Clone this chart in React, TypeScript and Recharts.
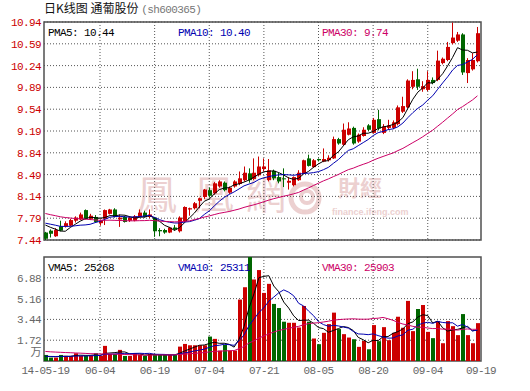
import React from 'react';
import { ComposedChart, Bar, Line, XAxis, YAxis, CartesianGrid, ReferenceArea } from 'recharts';

// 2014 trading days shown on the chart
const dates = [
  '05-19', '05-20', '05-21', '05-22', '05-23', '05-26', '05-27', '05-28', '05-29', '05-30',
  '06-03', '06-04', '06-05', '06-06', '06-09', '06-10', '06-11', '06-12', '06-13', '06-16',
  '06-17', '06-18', '06-19', '06-20', '06-23', '06-24', '06-25', '06-26', '06-27', '06-30',
  '07-01', '07-02', '07-03', '07-04', '07-07', '07-08', '07-09', '07-10', '07-11', '07-14',
  '07-15', '07-16', '07-17', '07-18', '07-21', '07-22', '07-23', '07-24', '07-25', '07-28',
  '07-29', '07-30', '07-31', '08-01', '08-04', '08-05', '08-06', '08-07', '08-08', '08-11',
  '08-12', '08-13', '08-14', '08-15', '08-18', '08-19', '08-20', '08-21', '08-22', '08-25',
  '08-26', '08-27', '08-28', '08-29', '09-01', '09-02', '09-03', '09-04', '09-05', '09-09',
  '09-10', '09-11', '09-12', '09-15', '09-16', '09-17', '09-18', '09-19',
];

const opens = [
  7.56, 7.59, 7.50, 7.66, 7.66, 7.67, 7.75, 7.77, 7.92, 7.78,
  7.81, 7.71, 7.78, 7.86, 7.93, 7.77, 7.81, 7.75, 7.75, 7.81,
  7.88, 7.81, 7.80, 7.60, 7.60, 7.56, 7.64, 7.58, 7.74, 7.93,
  7.95, 8.07, 8.13, 8.24, 8.19, 8.30, 8.36, 8.20, 8.30, 8.34,
  8.40, 8.51, 8.42, 8.48, 8.58, 8.40, 8.55, 8.45, 8.43, 8.36,
  8.32, 8.40, 8.51, 8.75, 8.61, 8.74, 8.70, 8.72, 8.75, 9.06,
  8.97, 9.13, 9.24, 9.02, 9.11, 9.28, 9.16, 9.38, 9.16, 9.24,
  9.24, 9.30, 9.50, 9.57, 9.90, 10.02, 9.86, 9.85, 10.01, 10.01,
  10.28, 10.33, 10.60, 10.64, 10.74, 10.12, 10.18, 10.31,
];
const highs = [
  7.57, 7.61, 7.63, 7.75, 7.74, 7.78, 7.82, 7.88, 7.93, 7.86,
  7.84, 7.77, 7.93, 7.94, 7.95, 7.85, 7.83, 7.82, 7.84, 7.93,
  7.91, 7.93, 7.81, 7.63, 7.62, 7.65, 7.68, 7.82, 7.98, 7.96,
  8.05, 8.12, 8.26, 8.28, 8.37, 8.40, 8.38, 8.30, 8.40, 8.54,
  8.62, 8.59, 8.75, 8.78, 8.75, 8.74, 8.57, 8.52, 8.59, 8.45,
  8.46, 8.56, 8.73, 8.81, 8.74, 8.75, 8.91, 8.80, 9.10, 9.08,
  9.31, 9.33, 9.26, 9.15, 9.25, 9.30, 9.40, 9.53, 9.30, 9.37,
  9.36, 9.60, 9.74, 10.02, 10.15, 10.19, 9.99, 10.15, 10.05, 10.48,
  10.37, 10.62, 10.93, 10.78, 10.76, 10.36, 10.44, 10.86,
];
const lows = [
  7.44, 7.48, 7.49, 7.58, 7.64, 7.66, 7.72, 7.76, 7.77, 7.76,
  7.72, 7.67, 7.68, 7.85, 7.80, 7.65, 7.72, 7.73, 7.74, 7.80,
  7.80, 7.79, 7.49, 7.50, 7.54, 7.55, 7.59, 7.56, 7.72, 7.83,
  7.93, 7.95, 8.10, 8.12, 8.17, 8.28, 8.22, 8.18, 8.28, 8.32,
  8.38, 8.36, 8.40, 8.46, 8.54, 8.38, 8.40, 8.35, 8.29, 8.25,
  8.30, 8.39, 8.50, 8.62, 8.60, 8.70, 8.69, 8.70, 8.74, 8.97,
  8.95, 9.12, 8.97, 9.00, 9.10, 9.19, 9.15, 9.20, 9.14, 9.21,
  9.22, 9.28, 9.48, 9.55, 9.86, 9.85, 9.82, 9.83, 9.94, 9.99,
  10.26, 10.31, 10.58, 10.62, 10.09, 9.96, 10.16, 10.29,
];
const closes = [
  7.46, 7.54, 7.60, 7.59, 7.71, 7.76, 7.80, 7.85, 7.78, 7.83,
  7.73, 7.75, 7.92, 7.93, 7.81, 7.80, 7.73, 7.80, 7.82, 7.88,
  7.81, 7.85, 7.58, 7.58, 7.56, 7.64, 7.61, 7.80, 7.97, 7.95,
  8.03, 8.11, 8.25, 8.15, 8.35, 8.38, 8.24, 8.28, 8.38, 8.43,
  8.52, 8.40, 8.52, 8.62, 8.62, 8.56, 8.43, 8.38, 8.42, 8.39,
  8.45, 8.52, 8.72, 8.63, 8.72, 8.72, 8.74, 8.76, 9.06, 8.99,
  9.21, 9.23, 8.99, 9.13, 9.21, 9.21, 9.37, 9.23, 9.26, 9.28,
  9.33, 9.57, 9.59, 10.00, 10.01, 9.90, 9.91, 10.01, 9.96, 10.32,
  10.35, 10.54, 10.69, 10.74, 10.13, 10.33, 10.33, 10.76,
];
// volume in 万
const volumes = [
  0.50, 0.28, 0.28, 0.50, 0.42, 0.42, 0.64, 0.42, 0.42, 0.42,
  0.64, 0.42, 1.25, 0.58, 0.58, 0.92, 0.42, 0.42, 0.64, 0.53,
  0.42, 0.58, 0.50, 0.50, 0.50, 0.50, 0.50, 1.19, 1.41, 1.30,
  1.30, 1.30, 1.30, 2.02, 1.83, 0.86, 1.33, 0.86, 0.86, 5.08,
  6.10, 9.00, 6.74, 7.52, 5.63, 6.38, 4.72, 4.38, 3.25, 3.16,
  3.16, 2.77, 4.55, 3.25, 1.86, 1.39, 2.33, 3.05, 4.00, 2.64,
  2.22, 1.94, 1.80, 1.17, 1.66, 0.97, 2.97, 1.64, 2.80, 1.72,
  2.33, 3.66, 2.75, 4.97, 2.47, 4.30, 4.63, 2.41, 1.89, 3.30,
  1.47, 3.30, 2.88, 2.14, 3.88, 2.14, 1.47, 3.13,
];

// sessions before 05-19 (estimated), only feed the moving averages
const prevCloses = [
  8.10, 8.08, 8.12, 8.06, 8.02, 8.04, 7.98, 7.96, 8.00, 7.94,
  7.92, 7.90, 7.88, 7.90, 7.86, 7.84, 7.86, 7.82, 7.80, 7.78,
  7.70, 7.76, 7.78, 7.72, 7.74, 7.72, 7.75, 7.74, 7.73,
];
const prevVolumes = [
  1.2, 0.9, 1.1, 1.0, 0.8, 1.3, 0.9, 1.0, 1.1, 0.9,
  1.0, 0.8, 1.2, 1.0, 0.9, 1.1, 0.8, 0.9, 1.0, 0.9,
  0.4, 0.35, 0.4, 0.45, 0.35, 0.4, 0.35, 0.4, 0.3,
];

const priceTicks = [7.44, 7.79, 8.14, 8.49, 8.84, 9.19, 9.54, 9.89, 10.24, 10.59, 10.94];
const volTicks = [0.7, 1.72, 3.44, 5.16, 6.88];
const volGrid = [1.72, 3.44, 5.16, 6.88];
const dateTickLabels = ['14-05-19', '06-04', '06-19', '07-04', '07-21', '08-05', '08-20', '09-04', '09-19'];

const priceLegend = ['PMA5: 10.44', 'PMA10: 10.40', 'PMA30: 9.74'];
const volLegend = ['VMA5: 25268', 'VMA10: 25311', 'VMA30: 25903'];

const RED = '#cc0000';
const GREEN = '#006600';
const MA5 = '#000000';
const MA10 = '#0000b0';
const MA30 = '#cc0066';
const GRID = '#555555';
const MONO = '"Liberation Mono", "DejaVu Sans Mono", "Noto Sans CJK SC", monospace';

const X_MIN = -0.28;
const X_MAX = 87.72;
const gridX = [11, 22, 33, 44, 55, 66, 77];
const labelX = [0, 11, 22, 33, 44, 55, 66, 77, X_MAX];

function movingAvg(values: number[], prev: number[], n: number) {
  const all = prev.concat(values);
  return values.map((_, i) => {
    const end = prev.length + i;
    let s = 0;
    for (let k = end - n + 1; k <= end; k++) s += all[k];
    return s / n;
  });
}

const ma5 = movingAvg(closes, prevCloses, 5);
const ma10 = movingAvg(closes, prevCloses, 10);
const ma30 = movingAvg(closes, prevCloses, 30);
const vma5 = movingAvg(volumes, prevVolumes, 5);
const vma10 = movingAvg(volumes, prevVolumes, 10);
const vma30 = movingAvg(volumes, prevVolumes, 30);

const data = dates.map((d, i) => ({
  i,
  date: d,
  open: opens[i],
  high: highs[i],
  low: lows[i],
  close: closes[i],
  range: [lows[i], highs[i]],
  up: closes[i] >= opens[i],
  vol: volumes[i],
  ma5: ma5[i],
  ma10: ma10[i],
  ma30: ma30[i],
  vma5: vma5[i],
  vma10: vma10[i],
  vma30: vma30[i],
}));

const Candle = (props: any) => {
  const { x, y, width, height, payload } = props;
  if (x == null || !payload) return null;
  const { open, close, high, low } = payload;
  const top = Math.min(y, y + height);
  const h = Math.abs(height);
  const span = high - low;
  const py = (v: number) => (span > 0 ? top + ((high - v) / span) * h : top);
  const color = close >= open ? RED : GREEN;
  const c = Math.round(x + width / 2);
  const bTop = py(Math.max(open, close));
  const bBot = py(Math.min(open, close));
  return (
    <g>
      <line x1={c + 0.5} x2={c + 0.5} y1={top} y2={top + h} stroke={color} strokeWidth={1} />
      <rect x={c - 1} y={bTop} width={4} height={Math.max(1, bBot - bTop)} fill={color} />
    </g>
  );
};

const VolBar = (props: any) => {
  const { x, y, width, height, payload } = props;
  if (x == null || !payload) return null;
  const c = Math.round(x + width / 2);
  const top = Math.min(y, y + height);
  return <rect x={c - 1} y={top} width={4} height={Math.abs(height)} fill={payload.up ? RED : GREEN} />;
};

const axisTick = (fill: string) => ({ fill, fontSize: 11, fontFamily: MONO, letterSpacing: -0.6 });

export default function App() {
  return (
    <div style={{ position: 'absolute', left: 0, top: 0, width: 530, height: 391, background: '#fff', overflow: 'hidden' }}>
      {/* ifeng watermark */}
      <div style={{ position: 'absolute', left: 0, top: 0, width: 530, height: 391, color: '#ecd0d0', fontFamily: '"Noto Sans CJK TC", sans-serif' }}>
        <span style={{ position: 'absolute', left: 137, top: 170, fontSize: 40, lineHeight: '44px' }}>鳳</span>
        <span style={{ position: 'absolute', left: 194, top: 170, fontSize: 40, lineHeight: '44px' }}>凰</span>
        <span style={{ position: 'absolute', left: 246, top: 170, fontSize: 40, lineHeight: '44px' }}>網</span>
        <svg style={{ position: 'absolute', left: 288, top: 181 }} width={34} height={34}>
          <circle cx={17} cy={17} r={14} fill="none" stroke="#ecd0d0" strokeWidth={5} />
          <circle cx={19} cy={16} r={6} fill="none" stroke="#ecd0d0" strokeWidth={4} />
        </svg>
        <span style={{ position: 'absolute', left: 338, top: 174, fontSize: 22, fontWeight: 700, lineHeight: '24px' }}>財經</span>
        <span style={{ position: 'absolute', left: 332, top: 207, fontSize: 9, fontWeight: 700, fontFamily: '"Liberation Sans", sans-serif', lineHeight: '10px' }}>finance.ifeng.com</span>
      </div>

      <div style={{ position: 'absolute', left: 0, top: 0 }}>
        <ComposedChart width={530} height={250} data={data} margin={{ top: 22, right: 49, bottom: 10, left: 0 }}>
          <CartesianGrid stroke={GRID} strokeDasharray="1 2" verticalValues={gridX} />
          <XAxis type="number" dataKey="i" domain={[X_MIN, X_MAX]} ticks={gridX} hide />
          <YAxis
            domain={[7.44, 10.94]}
            ticks={priceTicks}
            width={44}
            axisLine={false}
            tickLine={false}
            tickSize={0}
            tickMargin={3}
            interval={0}
            tick={axisTick(RED)}
            tickFormatter={(v: number) => v.toFixed(2)}
          />
          <Bar dataKey="range" barSize={4} shape={<Candle />} isAnimationActive={false} />
          <Line dataKey="ma5" stroke={MA5} strokeWidth={1} dot={false} isAnimationActive={false} />
          <Line dataKey="ma10" stroke={MA10} strokeWidth={1} dot={false} isAnimationActive={false} />
          <Line dataKey="ma30" stroke={MA30} strokeWidth={1} dot={false} isAnimationActive={false} />
          <ReferenceArea x1={X_MIN} x2={X_MAX} y1={7.44} y2={10.94} fill="none" stroke="#505050" strokeWidth={1.5} fillOpacity={0} />
        </ComposedChart>
      </div>

      <div style={{ position: 'absolute', left: 0, top: 250 }}>
        <ComposedChart width={530} height={141} data={data} margin={{ top: 7, right: 49, bottom: 0, left: 0 }}>
          <CartesianGrid stroke={GRID} strokeDasharray="1 2" verticalValues={gridX} horizontalValues={volGrid} />
          <XAxis
            type="number"
            dataKey="i"
            domain={[X_MIN, X_MAX]}
            ticks={labelX}
            interval={0}
            height={30}
            axisLine={false}
            tickLine={false}
            tickSize={0}
            tickMargin={5}
            tick={axisTick('#666666')}
            tickFormatter={(v: number) => dateTickLabels[labelX.indexOf(v)] ?? ''}
          />
          <YAxis
            domain={[0, 8.6]}
            allowDataOverflow
            ticks={volTicks}
            width={44}
            axisLine={false}
            tickLine={false}
            tickSize={0}
            tickMargin={3}
            interval={0}
            tick={axisTick('#666666')}
            tickFormatter={(v: number) => (v < 1 ? '万' : v.toFixed(2))}
          />
          <Bar dataKey="vol" barSize={4} shape={<VolBar />} isAnimationActive={false} />
          <Line dataKey="vma5" stroke={MA5} strokeWidth={1} dot={false} isAnimationActive={false} />
          <Line dataKey="vma10" stroke={MA10} strokeWidth={1} dot={false} isAnimationActive={false} />
          <Line dataKey="vma30" stroke={MA30} strokeWidth={1} dot={false} isAnimationActive={false} />
          <ReferenceArea x1={X_MIN} x2={X_MAX} y1={0} y2={8.6} fill="none" stroke="#505050" strokeWidth={1.5} fillOpacity={0} />
        </ComposedChart>
      </div>

      <svg style={{ position: 'absolute', left: 0, top: 0, pointerEvents: 'none' }} width={530} height={391}>
        <text x={44} y={13} fontSize={12} fontFamily='"Noto Sans CJK SC", sans-serif' fill="#111">
          日K线图 通葡股份 <tspan fill="#777" fontFamily={MONO} fontSize={11} letterSpacing={-0.6}>(sh600365)</tspan>
        </text>
        <g fontFamily={MONO} fontSize={11} letterSpacing={-0.6}>
          <text x={48} y={36} fill={MA5}>{priceLegend[0]}</text>
          <text x={178} y={36} fill={MA10}>{priceLegend[1]}</text>
          <text x={322} y={36} fill={MA30}>{priceLegend[2]}</text>
          <text x={48} y={270.5} fill={MA5}>{volLegend[0]}</text>
          <text x={178} y={270.5} fill={MA10}>{volLegend[1]}</text>
          <text x={322} y={270.5} fill={MA30}>{volLegend[2]}</text>
        </g>
      </svg>
    </div>
  );
}
